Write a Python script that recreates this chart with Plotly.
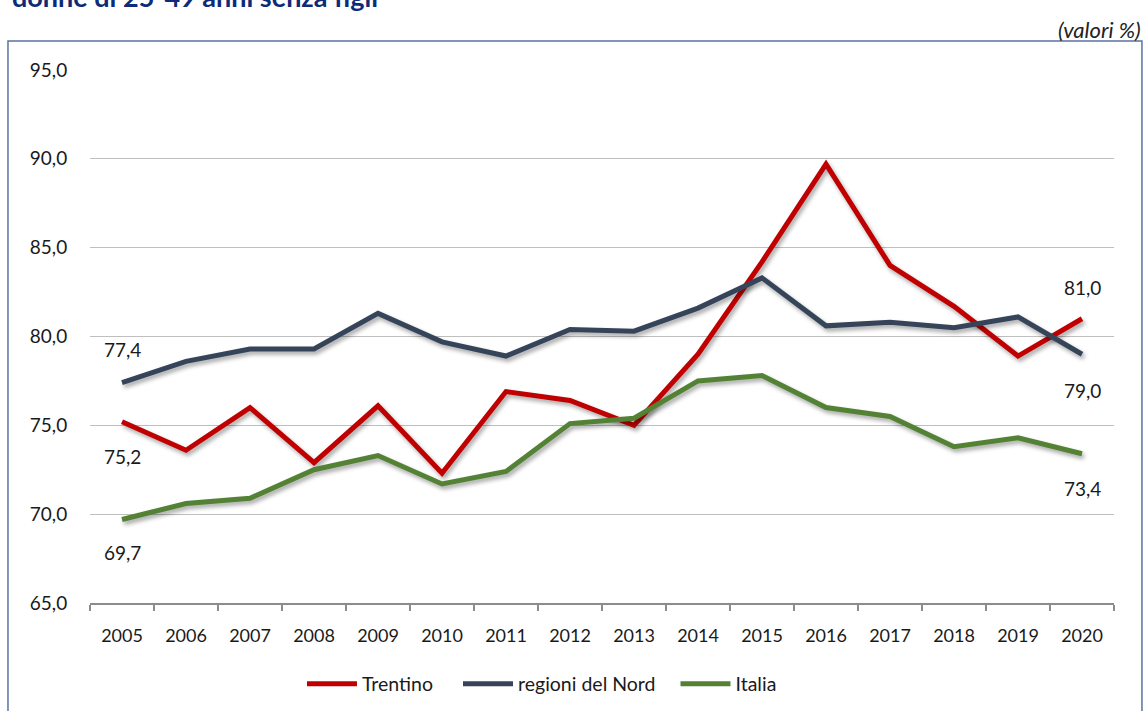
import plotly.graph_objects as go

# Quota di donne di 25-49 anni senza figli (valori %)
anni = ["2005", "2006", "2007", "2008", "2009", "2010", "2011", "2012",
        "2013", "2014", "2015", "2016", "2017", "2018", "2019", "2020"]
trentino = [75.2, 73.6, 76.0, 72.9, 76.1, 72.3, 76.9, 76.4,
            75.0, 79.0, 84.2, 89.7, 84.0, 81.7, 78.9, 81.0]
nord = [77.4, 78.6, 79.3, 79.3, 81.3, 79.7, 78.9, 80.4,
        80.3, 81.6, 83.3, 80.6, 80.8, 80.5, 81.1, 79.0]
italia = [69.7, 70.6, 70.9, 72.5, 73.3, 71.7, 72.4, 75.1,
          75.4, 77.5, 77.8, 76.0, 75.5, 73.8, 74.3, 73.4]

NBSP = "\u00a0"
# (legend name, values, colour, trailing spacing in the legend row)
serie = [
    ("Trentino", trentino, "#C00000", 4),
    ("regioni del Nord", nord, "#36445A", 3),
    ("Italia", italia, "#548235", 0),
]

FONT = "Lato, Calibri, Arial, sans-serif"

fig = go.Figure()
for nome, valori, colore, pad in serie:
    fig.add_trace(go.Scatter(
        x=anni, y=valori, name=nome + NBSP * pad, mode="lines",
        line=dict(color=colore, width=5),
    ))

# value labels on the first and last year; (series, year index, pixel shift)
etichette = [
    (nord, 0, 33), (trentino, 0, -35), (italia, 0, -33),
    (trentino, 15, 31), (nord, 15, -36), (italia, 15, -35),
]
for valori, i, shift in etichette:
    fig.add_annotation(
        x=i, y=valori[i], yshift=shift,
        text=f"{valori[i]:.1f}".replace(".", ","),
        showarrow=False, font=dict(size=19, color="#1a1a1a", family=FONT),
    )

# page elements around the plot
fig.add_annotation(
    xref="paper", yref="paper", x=-0.0782, y=1.1032,
    xanchor="left", yanchor="bottom",
    text="<b>donne di 25-49 anni senza figli</b>", showarrow=False,
    font=dict(size=27, color="#0D2B78", family=FONT),
)
fig.add_annotation(
    xref="paper", yref="paper", x=1.0283, y=1.0769,
    xanchor="right", yanchor="middle",
    text="<i>(valori %)</i>", showarrow=False,
    font=dict(size=22, color="#222222", family=FONT),
)
fig.add_shape(
    type="rect", xref="paper", yref="paper",
    x0=-0.0801, x1=1.0273, y0=-0.2195, y1=1.0544,
    line=dict(color="#5A73A3", width=1.5), fillcolor="rgba(0,0,0,0)",
    layer="below",
)

fig.update_layout(
    width=1145, height=711,
    margin=dict(l=90, r=31, t=70, b=108, autoexpand=False),
    paper_bgcolor="white", plot_bgcolor="white",
    separators=",.",
    font=dict(family=FONT, size=18, color="#1a1a1a"),
    showlegend=True,
    legend=dict(
        orientation="h", x=0.207, y=-0.152, xanchor="left", yanchor="middle",
        font=dict(size=19.5, color="#1a1a1a", family=FONT),
        itemwidth=50, tracegroupgap=0,
    ),
    xaxis=dict(
        type="category", range=[-0.5, 15.5],
        showgrid=False, zeroline=False,
        showline=True, linecolor="#8C8C8C", linewidth=2,
        ticks="outside", tickson="boundaries", ticklen=6,
        tickcolor="#8C8C8C", tickwidth=2,
        ticklabelstandoff=15,
        tickfont=dict(size=18, family=FONT, color="#1a1a1a"),
    ),
    yaxis=dict(
        range=[65, 95], dtick=5, tickformat=".1f",
        showgrid=True, gridcolor="#BFBFBF", gridwidth=1,
        zeroline=False, showline=False,
        ticks="outside", ticklen=18, tickcolor="rgba(0,0,0,0)",
        tickfont=dict(size=19, family=FONT, color="#1a1a1a"),
    ),
)

shadow_js = """
document.querySelectorAll('.scatterlayer .trace path.js-line').forEach(function(p){
  p.style.filter = 'drop-shadow(2px 3px 2px rgba(0,0,0,0.35))';
});
"""

fig.write_html("out.html", post_script=shadow_js)
